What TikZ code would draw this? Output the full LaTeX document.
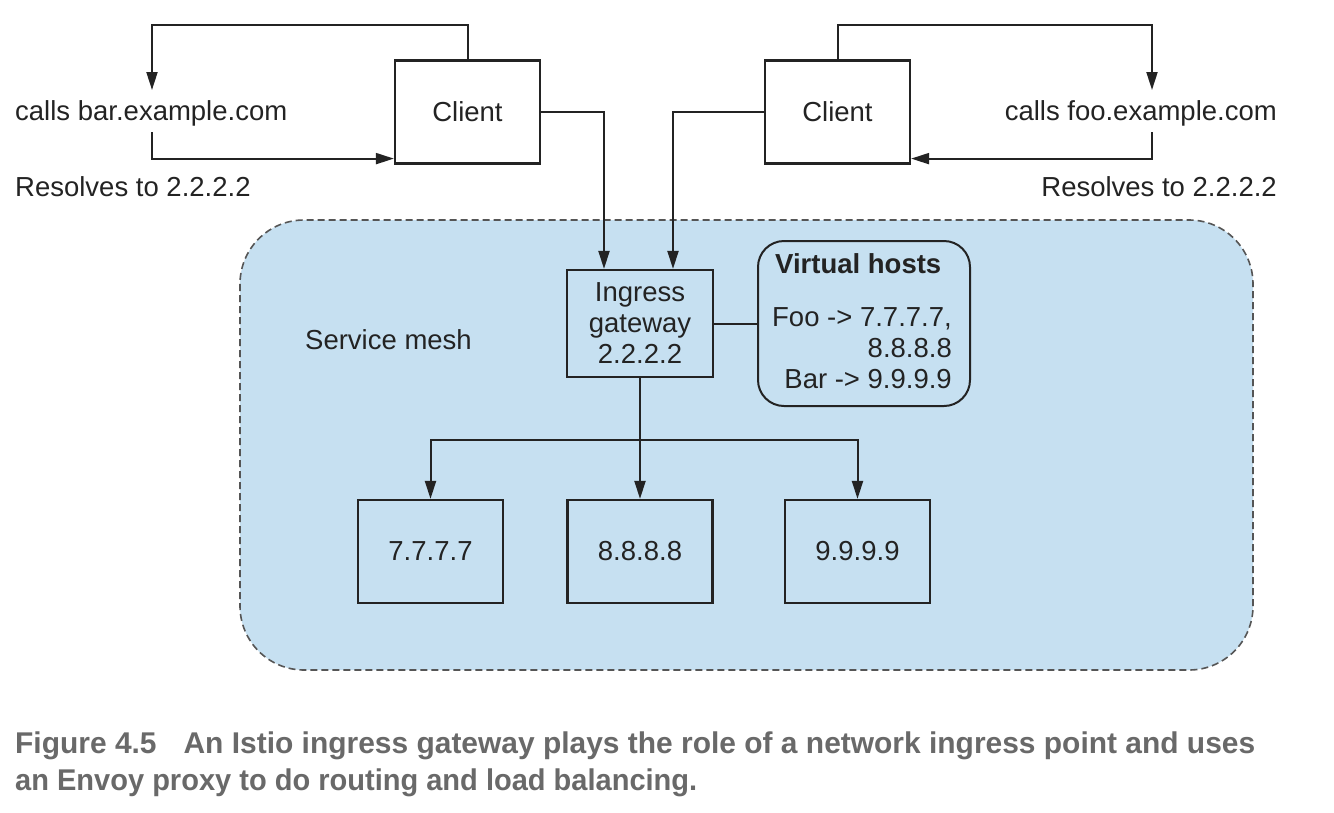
\documentclass[tikz,border=0pt]{standalone}
\usepackage{fontspec}
\usepackage{graphicx}
\setmainfont{Liberation Sans}
\usetikzlibrary{arrows.meta,calc}
\definecolor{meshblue}{RGB}{198,224,241}
\definecolor{capgray}{RGB}{105,105,105}
\definecolor{ink}{RGB}{35,35,35}
\definecolor{dashgray}{RGB}{85,85,85}
\begin{document}
\begin{tikzpicture}[x=1pt,y=-1pt,
  every node/.style={font=\fontsize{27.5}{31}\selectfont, text=ink},
  box/.style={draw=ink, line width=2.2pt, rectangle, inner sep=0pt, minimum width=145pt, minimum height=103pt, align=center},
  conn/.style={draw=ink, line width=2pt},
  arr/.style={conn, -{Triangle[length=18pt,width=11pt]}},
  lbl/.style={inner sep=0pt},
  capstyle/.style={lbl, anchor=base west, text=capgray, font=\fontsize{30}{36}\selectfont\bfseries}]
\useasboundingbox (0,0) rectangle (1334,812);
% service mesh region
\draw[draw=dashgray, line width=1.6pt, dash pattern=on 7pt off 4pt, fill=meshblue, rounded corners=64pt] (240,220) rectangle (1253,670);
\node[lbl, anchor=base west] (mesh) at (305,349) {Service mesh};
% clients
\node[box, fill=white] (clientL) at (467.5,112) {Client};
\node[box, fill=white] (clientR) at (837.5,112) {Client};
\node[lbl, anchor=base west] (callsbar) at (15,120) {calls bar.example.com};
\node[lbl, anchor=base west] (resL) at (15,196) {Resolves to 2.2.2.2};
\node[lbl, anchor=base east] (callsfoo) at (1277,120) {calls foo.example.com};
\node[lbl, anchor=base east] (resR) at (1277,196) {Resolves to 2.2.2.2};
\coordinate (barTop) at (152,90);
\coordinate (barBot) at (152,132);
\coordinate (fooTop) at (1152,90);
\coordinate (fooBot) at (1152,132);
% gateway and virtual hosts
\node[box, minimum width=146pt, minimum height=107pt] (gw) at (640,323.5) {Ingress\\gateway\\2.2.2.2};
\node[draw=ink, line width=2pt, rounded corners=26pt, minimum width=212pt, minimum height=165pt, inner sep=0pt] (vh) at (864,323.5) {};
\node[lbl, anchor=base west, font=\fontsize{27.5}{31}\selectfont\bfseries] (vhtitle) at (775,273) {Virtual hosts};
\node[lbl, anchor=base east] (vh1) at (952,326) {Foo -> 7.7.7.7,};
\node[lbl, anchor=base east] (vh2) at (952,357) {8.8.8.8};
\node[lbl, anchor=base east] (vh3) at (952,388) {Bar -> 9.9.9.9};
% backends
\node[box] (b7) at (430.5,551.5) {7.7.7.7};
\node[box] (b8) at (640,551.5) {8.8.8.8};
\node[box] (b9) at (857.5,551.5) {9.9.9.9};
\coordinate (jn) at (640,440);
% connectors
\draw[arr] (clientL.north) -- ++(0,-34) -| (barTop);
\draw[arr] (barBot) |- ($(clientL.south west)+(0,-6)$);
\draw[arr] (clientR.north) -- ++(0,-34) -| (fooTop);
\draw[arr] (fooBot) |- ($(clientR.south east)+(0,-6)$);
\draw[arr] (clientL.east) -| ($(gw.north)+(-36,0)$);
\draw[arr] (clientR.west) -| ($(gw.north)+(33,0)$);
\draw[conn] (gw.east) -- (vh.west);
\draw[conn] (gw.south) -- (jn);
\draw[arr] (jn) -- (b8.north);
\draw[arr] (jn) -| (b7.north);
\draw[arr] (jn) -| (b9.north);
% caption
\node[capstyle] (cap1) at (15,753) {\resizebox{1240pt}{\height}{Figure 4.5\hspace{0.9em}An Istio ingress gateway plays the role of a network ingress point and uses}};
\node[capstyle] (cap2) at (15,790) {\resizebox{682pt}{\height}{an Envoy proxy to do routing and load balancing.}};
\end{tikzpicture}
\end{document}
